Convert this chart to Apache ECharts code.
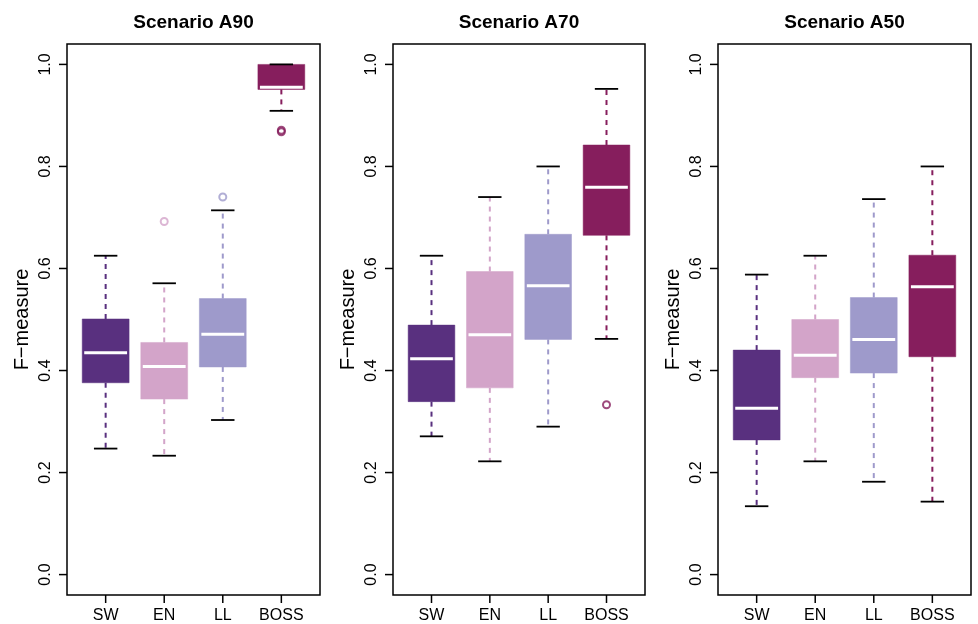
<!DOCTYPE html>
<html>
<head>
<meta charset="utf-8">
<script src="https://cdn.jsdelivr.net/npm/echarts@6/dist/echarts.min.js"></script>
<style>
html,body{margin:0;padding:0;background:#fff;}
#chart{width:978px;height:624px;}
</style>
</head>
<body>
<div id="chart"></div>
<script>
// ---- data ----
const categories = ['SW', 'EN', 'LL', 'BOSS'];
const panelTitles = ['Scenario A90', 'Scenario A70', 'Scenario A50'];
const yTicks = [0, 0.2, 0.4, 0.6, 0.8, 1.0];
const xTicks = [1, 2, 3, 4];
const yLabel = 'F\u2212measure';

// Scenario A90
const a90Low  = [0.247, 0.233, 0.303, 0.909];
const a90Q1   = [0.376, 0.344, 0.407, 0.951];
const a90Med  = [0.435, 0.408, 0.471, 0.955];
const a90Q3   = [0.501, 0.455, 0.541, 1.000];
const a90High = [0.625, 0.571, 0.714, 1.000];
const a90Out  = [['EN', 0.692], ['LL', 0.740], ['BOSS', 0.868], ['BOSS', 0.871]];

// Scenario A70
const a70Low  = [0.271, 0.222, 0.290, 0.462];
const a70Q1   = [0.339, 0.366, 0.461, 0.665];
const a70Med  = [0.423, 0.470, 0.566, 0.759];
const a70Q3   = [0.489, 0.594, 0.667, 0.842];
const a70High = [0.625, 0.740, 0.800, 0.952];
const a70Out  = [['BOSS', 0.333]];

// Scenario A50
const a50Low  = [0.134, 0.222, 0.182, 0.143];
const a50Q1   = [0.264, 0.386, 0.395, 0.427];
const a50Med  = [0.326, 0.430, 0.461, 0.564];
const a50Q3   = [0.440, 0.500, 0.543, 0.626];
const a50High = [0.588, 0.625, 0.736, 0.800];
const a50Out  = [];

// ---- styles / layout ----
const X_MIN = 0.34, X_MAX = 4.66, Y_MIN = -0.04, Y_MAX = 1.04;
const TICK_LEN = 8;
const colors = ['#59307f', '#d3a4c9', '#9e9acb', '#861e5d'];
const FONT = '"Liberation Sans", Arial, Helvetica, sans-serif';
const grids = [
  {left: 67, top: 44, width: 253, height: 552},
  {left: 393, top: 44, width: 252, height: 552},
  {left: 718, top: 44, width: 253, height: 552}
];
const panels = [
  [a90Low, a90Q1, a90Med, a90Q3, a90High, a90Out],
  [a70Low, a70Q1, a70Med, a70Q3, a70High, a70Out],
  [a50Low, a50Q1, a50Med, a50Q3, a50High, a50Out]
];

function renderBox(params, api) {
  const x = api.value(0);
  const ci = x - 1;
  const col = colors[ci];
  const lo = api.coord([x, api.value(1)]);
  const q1 = api.coord([x, api.value(2)]);
  const md = api.coord([x, api.value(3)]);
  const q3 = api.coord([x, api.value(4)]);
  const hi = api.coord([x, api.value(5)]);
  const bw = api.size([0.8, 0])[0];
  const cw = api.size([0.4, 0])[0];
  const cx = lo[0];
  const children = [];
  children.push({type: 'rect', shape: {x: cx - bw / 2, y: q3[1], width: bw, height: q1[1] - q3[1]},
    style: {fill: col, stroke: col, lineWidth: 0.5}});
  if (q1[1] < lo[1] - 0.5) {
    children.push({type: 'line', shape: {x1: cx, y1: q1[1], x2: cx, y2: lo[1]},
      style: {stroke: col, lineWidth: 2, lineDash: [5, 5]}});
  }
  if (q3[1] > hi[1] + 0.5) {
    children.push({type: 'line', shape: {x1: cx, y1: q3[1], x2: cx, y2: hi[1]},
      style: {stroke: col, lineWidth: 2, lineDash: [5, 5]}});
  }
  children.push({type: 'line', shape: {x1: cx - cw / 2, y1: lo[1], x2: cx + cw / 2, y2: lo[1]},
    style: {stroke: '#000', lineWidth: 1.8}});
  children.push({type: 'line', shape: {x1: cx - cw / 2, y1: hi[1], x2: cx + cw / 2, y2: hi[1]},
    style: {stroke: '#000', lineWidth: 1.8}});
  children.push({type: 'line', shape: {x1: cx - bw / 2 + 2, y1: md[1], x2: cx + bw / 2 - 2, y2: md[1]},
    style: {stroke: '#fff', lineWidth: 3}});
  return {type: 'group', children: children};
}

const titleGraphics = grids.map((g, i) => ({
  type: 'text', x: g.left + g.width / 2, y: 23,
  style: {text: panelTitles[i], fontSize: 19, fontWeight: 'bold', fontFamily: FONT,
    fill: '#000', align: 'center', verticalAlign: 'middle'}
}));

const option = {
  animation: false,
  backgroundColor: '#fff',
  grid: grids.map(g => Object.assign({show: true, borderColor: '#000', borderWidth: 1.5, containLabel: false}, g)),
  xAxis: grids.map((g, i) => ({
    type: 'value', gridIndex: i, min: X_MIN, max: X_MAX, position: 'bottom',
    axisLine: {show: false, onZero: false},
    splitLine: {show: false},
    axisTick: {show: false},
    axisLabel: {customValues: xTicks, formatter: v => categories[Math.round(v) - 1], margin: 13,
      color: '#000', fontSize: 16, fontFamily: FONT}
  })),
  yAxis: grids.map((g, i) => ({
    type: 'value', gridIndex: i, min: Y_MIN, max: Y_MAX, position: 'left',
    name: yLabel, nameLocation: 'middle', nameGap: 35,
    nameTextStyle: {fontSize: 20, fontFamily: FONT, color: '#000'},
    axisLine: {show: false, onZero: false},
    splitLine: {show: false},
    axisTick: {show: false},
    axisLabel: {customValues: yTicks, rotate: 90, formatter: v => v.toFixed(1), margin: 13,
      color: '#000', fontSize: 16, fontFamily: FONT}
  })),
  graphic: titleGraphics,
  series: []
};

panels.forEach((p, i) => {
  const [lo, q1, md, q3, hi, out] = p;
  option.series.push({
    type: 'custom', xAxisIndex: i, yAxisIndex: i,
    renderItem: renderBox,
    encode: {x: 0, y: [1, 2, 3, 4, 5]},
    data: categories.map((c, k) => [k + 1, lo[k], q1[k], md[k], q3[k], hi[k]])
  });
  option.series.push({
    type: 'scatter', xAxisIndex: i, yAxisIndex: i,
    symbol: 'circle', symbolSize: 7,
    data: out.map(o => {
      const k = categories.indexOf(o[0]);
      return {value: [k + 1, o[1]], itemStyle: {color: 'rgba(255,255,255,0)', borderColor: colors[k], borderWidth: 2}};
    })
  });
});

const chart = echarts.init(document.getElementById('chart'), null, {renderer: 'canvas'});
chart.setOption(option);

// axis tick marks, positioned through each grid's own scales (drawn as thin rects)
const tickGraphics = [];
grids.forEach((g, i) => {
  xTicks.forEach(v => {
    const p = chart.convertToPixel({gridIndex: i}, [v, Y_MIN]);
    tickGraphics.push({type: 'rect', shape: {x: p[0] - 0.75, y: p[1], width: 1.5, height: TICK_LEN},
      style: {fill: '#000'}, z: 100});
  });
  yTicks.forEach(v => {
    const p = chart.convertToPixel({gridIndex: i}, [X_MIN, v]);
    tickGraphics.push({type: 'rect', shape: {x: p[0] - TICK_LEN, y: p[1] - 0.75, width: TICK_LEN, height: 1.5},
      style: {fill: '#000'}, z: 100});
  });
});
chart.setOption({graphic: titleGraphics.concat(tickGraphics)});
</script>
</body>
</html>
